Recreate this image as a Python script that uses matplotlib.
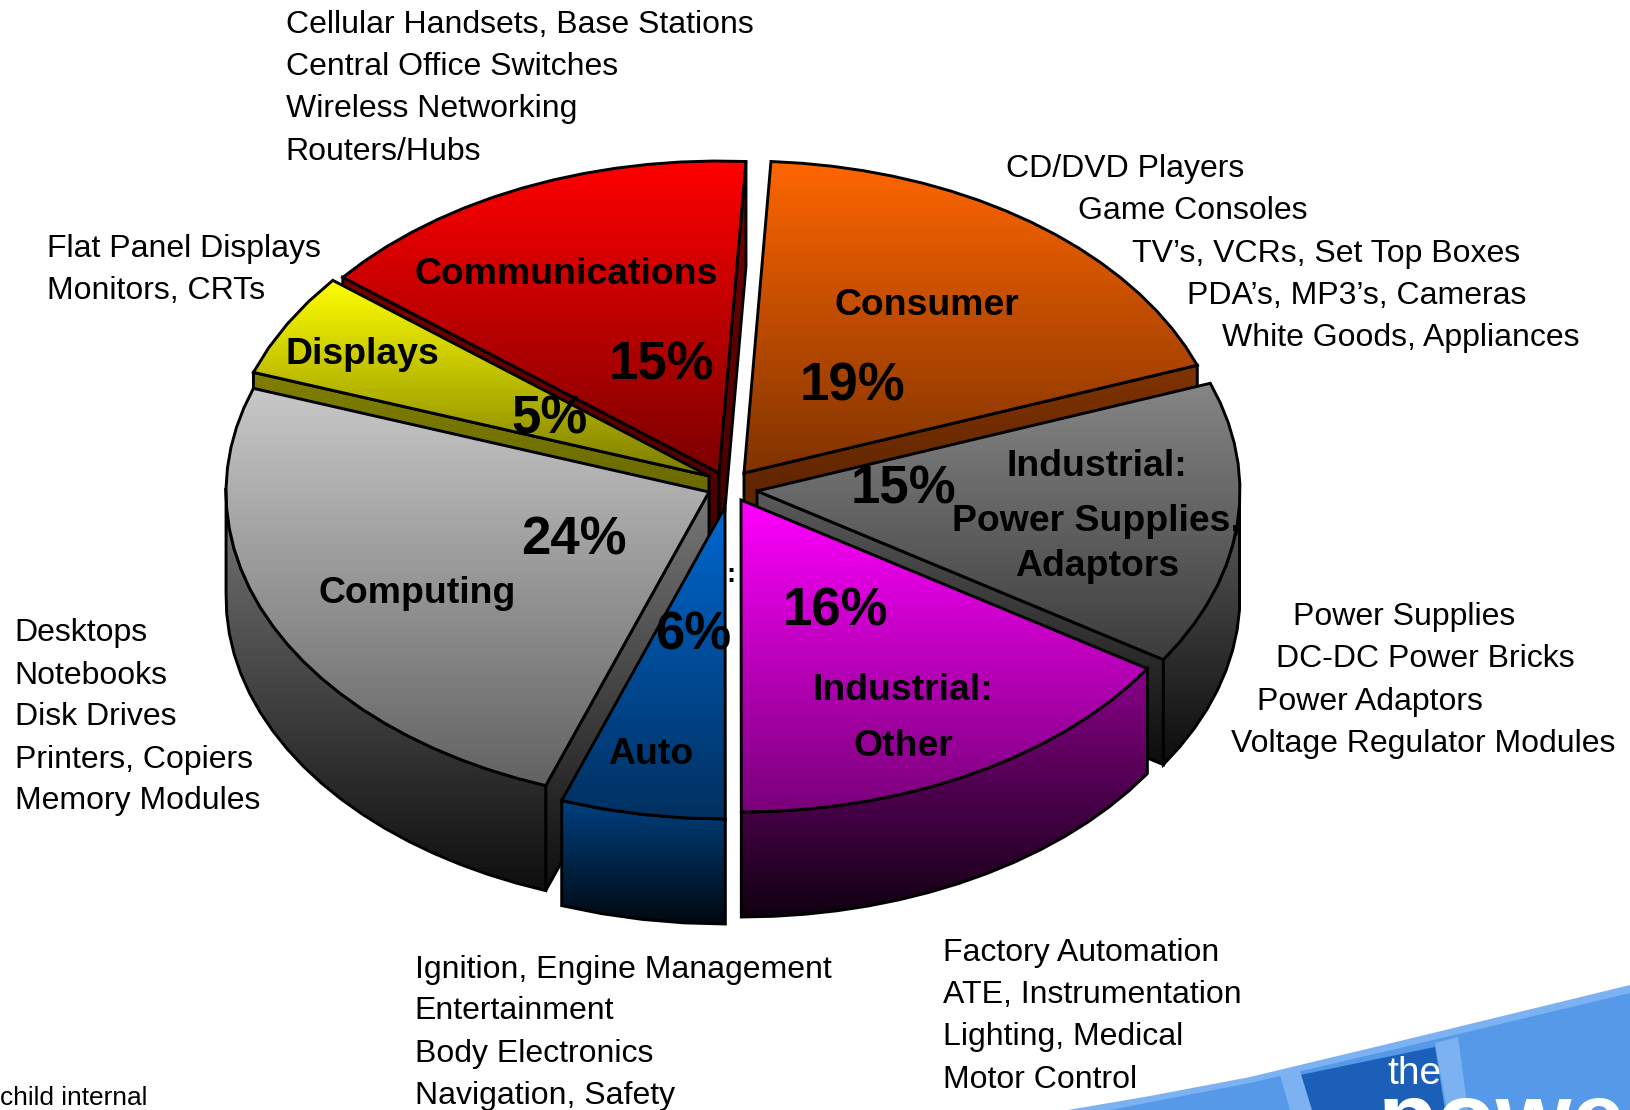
import numpy as np
import matplotlib
matplotlib.use("Agg")
import matplotlib.pyplot as plt
from matplotlib.colors import LinearSegmentedColormap
from matplotlib.patches import Polygon

plt.rcParams['font.family'] = ['Liberation Sans', 'DejaVu Sans']

# slice sizes as measured on the picture, the printed labels are rounded
names = ["Consumer", "Power", "Other", "Auto", "Computing", "Displays", "Communications"]
shares = [18.5, 14.7, 15.9, 5.5, 24.9, 5.4, 15.1]
first_angle = 3.2

# apex of every exploded slice, in reference pixels
apex_x = [744, 757, 741, 725, 709, 709, 719]
apex_y = [473, 491, 500, 507, 492, 476, 473]

face_top = ["#ff6600", "#868686", "#ff00ff", "#0068d0", "#c8c8c8", "#ffff00", "#ff0000"]
face_bot = ["#803300", "#3c3c3c", "#7a007a", "#003060", "#626262", "#7c7c00", "#7c0000"]
wall_top = ["#803300", "#5a5a5a", "#8a008a", "#004080", "#787878", "#807f00", "#7a0000"]
wall_bot = ["#4a1d00", "#0c0c0c", "#100010", "#00080f", "#0e0e0e", "#5a5a00", "#3c0000"]

# back to front
draw_order = [6, 0, 5, 1, 4, 2, 3]

RX, RY, DEPTH = 483, 312, 105

comm_lines = ["Cellular Handsets, Base Stations", "Central Office Switches", "Wireless Networking", "Routers/Hubs"]
comm_x = [275, 275, 275, 275]
comm_y = [21, 61, 102, 143]
cons_lines = ["CD/DVD Players", "Game Consoles", "TV\u2019s, VCRs, Set Top Boxes", "PDA\u2019s, MP3\u2019s, Cameras", "White Goods, Appliances"]
cons_x = [968, 1037, 1089, 1142, 1176]
cons_y = [160, 200, 241, 282, 322]
disp_lines = ["Flat Panel Displays", "Monitors, CRTs"]
disp_x = [45, 45]
disp_y = [237, 277]
comp_lines = ["Desktops", "Notebooks", "Disk Drives", "Printers, Copiers", "Memory Modules"]
comp_x = [14, 14, 14, 14, 14]
comp_y = [606, 647, 687, 728, 768]
power_lines = ["Power Supplies", "DC-DC Power Bricks", "Power Adaptors", "Voltage Regulator Modules"]
power_x = [1244, 1227, 1209, 1184]
power_y = [591, 631, 672, 713]
auto_lines = ["Ignition, Engine Management", "Entertainment", "Body Electronics", "Navigation, Safety"]
auto_x = [399, 399, 399, 399]
auto_y = [930, 970, 1011, 1051]
other_lines = ["Factory Automation", "ATE, Instrumentation", "Lighting, Medical", "Motor Control"]
other_x = [907, 907, 907, 907]
other_y = [914, 954, 995, 1036]

bold_labels = ["Communications", "Consumer", "Displays", "Computing", "Auto"]
bold_x = [399, 803, 275, 306, 585]
bold_y = [261, 291, 338, 568, 723]
center_labels = ["Industrial:", "Power Supplies,", "Adaptors", "Industrial:", "Other"]
center_x = [1055, 1055, 1055, 869, 869]
center_y = [446, 499, 542, 661, 715]
pct_labels = ["15%", "19%", "5%", "15%", "24%", "6%", "16%"]
pct_x = [585, 769, 492, 818, 501, 630, 753]
pct_y = [348, 368, 400, 467, 516, 607, 584]

S = 1630 / 1568  # positions above were read on the shrunk picture


def gradient(ax, poly, top, bot, y0, y1):
    cmap = LinearSegmentedColormap.from_list("g", [top, bot])
    x0, x1 = poly[:, 0].min() - 2, poly[:, 0].max() + 2
    im = ax.imshow(np.linspace(0, 1, 256).reshape(-1, 1), cmap=cmap, aspect="auto",
                   extent=[x0, x1, y1, y0], zorder=ax.z, interpolation="bilinear")
    clip = Polygon(poly, closed=True, transform=ax.transData, fc="none", ec="none")
    ax.add_patch(clip)
    im.set_clip_path(clip)
    ax.add_patch(Polygon(poly, closed=True, fill=False, ec="black", lw=2.1, joinstyle="miter", zorder=ax.z + 0.5))
    ax.z += 1


def arc(cx, cy, t):
    t = np.radians(t)
    return np.column_stack([cx + RX * np.sin(t), cy - RY * np.cos(t)])


fig = plt.figure(figsize=(16.3, 11.1), dpi=100)
ax = fig.add_axes([0, 0, 1, 1])
ax.z = 2

angles = first_angle + np.concatenate([[0], np.cumsum(shares)]) * 3.6

for i in draw_order:
    cx, cy = apex_x[i], apex_y[i]
    a0, a1 = angles[i], angles[i + 1]
    t = np.linspace(a0, a1, max(4, int((a1 - a0) / 3.5)))
    rim = arc(cx, cy, t)
    low = rim + [0, DEPTH]
    # radial walls, drawn only if they turn towards the viewer
    for p, seen in ((rim[0], np.sin(np.radians(a0)) < -0.01), (rim[-1], np.sin(np.radians(a1)) > 0.01)):
        if seen:
            quad = np.array([[cx, cy], p, p + [0, DEPTH], [cx, cy + DEPTH]])
            gradient(ax, quad, wall_top[i], wall_bot[i], quad[:, 1].min(), quad[:, 1].max())
    # outer wall, only the part facing us
    mask = np.cos(np.radians(t)) < 0.02
    if mask.sum() > 1:
        shell = np.vstack([rim[mask], low[mask][::-1]])
        gradient(ax, shell, wall_top[i], wall_bot[i], shell[:, 1].min(), shell[:, 1].max())
    face = np.vstack([[[cx, cy]], rim])
    gradient(ax, face, face_top[i], face_bot[i], face[:, 1].min(), face[:, 1].max())

for lines, xs, ys in [(comm_lines, comm_x, comm_y), (cons_lines, cons_x, cons_y),
                      (disp_lines, disp_x, disp_y), (comp_lines, comp_x, comp_y),
                      (power_lines, power_x, power_y), (auto_lines, auto_x, auto_y),
                      (other_lines, other_x, other_y)]:
    for t, x, y in zip(lines, xs, ys):
        ax.text(x * S, (y + 3) * S, t, fontsize=23.0, va="center", ha="left", color="black", zorder=50)

for t, x, y in zip(bold_labels, bold_x, bold_y):
    ax.text(x * S, (y + 3) * S, t, fontsize=26.9, fontweight="bold", va="center", ha="left", zorder=50)
for t, x, y in zip(center_labels, center_x, center_y):
    ax.text(x * S, (y + 3) * S, t, fontsize=26.9, fontweight="bold", va="center", ha="center", zorder=50)
for t, x, y in zip(pct_labels, pct_x, pct_y):
    ax.text(x * S, (y + 4) * S, t, fontsize=38, fontweight="bold", va="center", ha="left", zorder=50)
ax.text(703 * S, 553 * S, ":", fontsize=20, fontweight="bold", va="center", ha="center", zorder=50)
ax.text(0, 1056 * S, "child internal", fontsize=18.9, va="center", ha="left", zorder=50)

# logo in the corner, cut by the page
ax.add_patch(Polygon([[1068, 1110], [1150, 1096], [1250, 1077], [1400, 1041], [1630, 985], [1630, 1110]],
                     fc="#7db2f2", ec="none", zorder=40))
ax.add_patch(Polygon([[1110, 1110], [1250, 1083], [1400, 1048], [1630, 993], [1630, 1110]],
                     fc="#5599e8", ec="none", zorder=41))
ax.add_patch(Polygon([[1300, 1075], [1435, 1047], [1445, 1110], [1303, 1110]], fc="#1c5fb8", ec="none", zorder=42))
ax.add_patch(Polygon([[1280, 1075], [1300, 1071], [1312, 1110], [1290, 1110]], fc="#7db2f2", ec="none", zorder=43))
ax.add_patch(Polygon([[1435, 1043], [1458, 1037], [1468, 1110], [1447, 1110]], fc="#7db2f2", ec="none", zorder=43))
ax.text(1414, 1074, "the", color="white", fontsize=28, va="center", ha="center", zorder=45)
ax.text(1378, 1150, "power", color="white", fontsize=70, fontweight="bold", va="baseline", ha="left", zorder=45)

ax.set_xlim(0, 1630)
ax.set_ylim(1110, 0)
ax.axis("off")
fig.savefig("out.png", dpi=100, facecolor="white")
